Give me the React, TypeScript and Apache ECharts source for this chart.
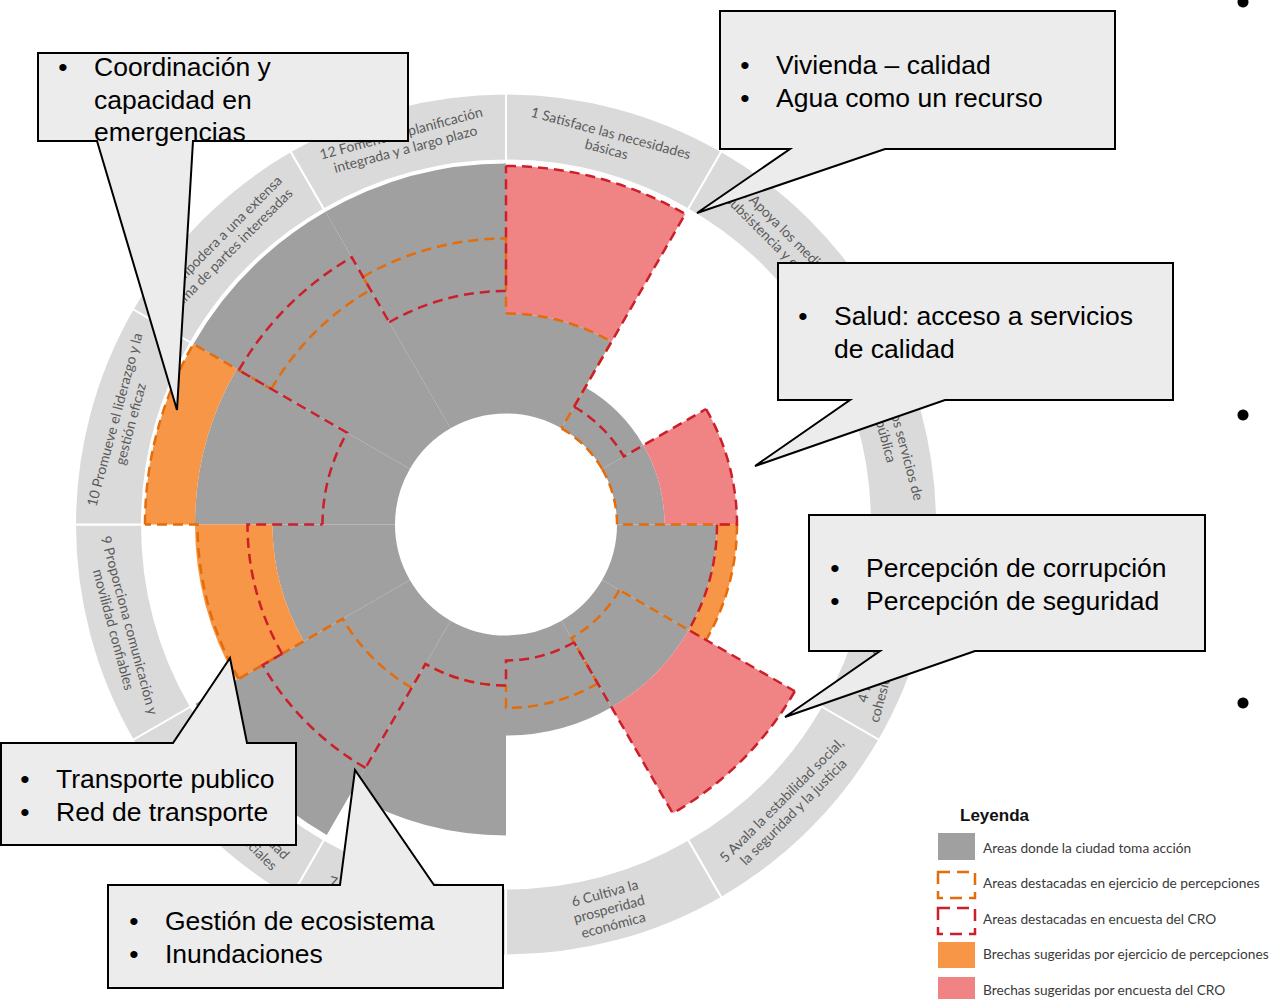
import React, { useEffect, useRef } from "react";
import * as echarts from "echarts";

// ---------- DATA ----------
const sectorNames = ["1", "2", "3", "4", "5", "6", "7", "8", "9", "10", "11", "12"];
const ringLabels = [
  "1 Satisface las necesidades\nbásicas",
  "2 Apoya los medios de\nsubsistencia y el empleo",
  "3 Garantiza los servicios de\nsalud pública",
  "4 Promueve comunidades\ncohesionadas y comprometidas",
  "5 Avala la estabilidad social,\nla seguridad y la justicia",
  "6 Cultiva la\nprosperidad\neconómica",
  "7 Provee y mejora activos\nnaturales y construidos",
  "8 Garantiza la continuidad\nde los servicios esenciales",
  "9 Proporciona comunicación y\nmovilidad confiables",
  "10 Promueve el liderazgo y la\ngestión eficaz",
  "11 Empodera a una extensa\ngama de partes interesadas",
  "12 Fomenta la planificación\nintegrada y a largo plazo",
];
// radial values 0..100 (0 = inner hole, 100 = outer edge of data area)
const cityAction = [40, 19, 19, 40, 40, 40, 80, 99, 49, 80, 100, 100];
const perceptionGap = [0, 0, 0, 8, 0, 0, 0, 0, 31, 20, 0, 0];
const croGap = [59, 0, 29, 0, 49, 0, 0, 0, 0, 0, 0, 0];
const perceptionHighlight = [40, 0, 0, 48, 8, 29, 20, 31, 79, 100, 64, 70];
const croHighlight = [99, 10, 48, 40, 89, 10, 20, 68, 59, 29, 79, 49];

const legendTitle = "Leyenda";
const legendItems = [
  "Areas donde la ciudad toma acción",
  "Areas destacadas en ejercicio de percepciones",
  "Areas destacadas en encuesta del CRO",
  "Brechas sugeridas por ejercicio de percepciones",
  "Brechas sugeridas por encuesta del CRO",
];
const calloutItems = [
  [["Coordinación y", "capacidad en", "emergencias"]],
  [["Vivienda – calidad"], ["Agua como un recurso"]],
  [["Salud: acceso a servicios", "de calidad"]],
  [["Percepción de corrupción"], ["Percepción de seguridad"]],
  [["Transporte publico"], ["Red de transporte"]],
  [["Gestión de ecosistema"], ["Inundaciones"]],
];

// ---------- STYLE / LAYOUT ----------
const C_GRAY = "#a0a0a0";
const C_ORANGE = "#f79646";
const C_PINK = "#f08383";
const C_ORANGE_LINE = "#e46c0a";
const C_RED_LINE = "#cc1f2a";
const C_RING = "#dadada";
const C_RING_TEXT = "#5a5a5a";
const CENTER = [506, 524.5];
const CALLOUT_FONT = '26.5px "Liberation Sans", Arial, sans-serif';

const calloutLayout = [
  { textX: 94, y0: 67, pts: [[38, 53], [408, 53], [408, 141], [193, 141], [177, 410], [97, 141], [38, 141]] },
  { textX: 776, y0: 65, pts: [[720, 11], [1115, 11], [1115, 149], [885, 149], [697, 213], [790, 149], [720, 149]] },
  { textX: 834, y0: 316, pts: [[778, 263], [1173, 263], [1173, 400], [945, 400], [755, 466], [850, 400], [778, 400]] },
  { textX: 866, y0: 568, pts: [[809, 515], [1205, 515], [1205, 651], [975, 651], [785, 717], [880, 651], [809, 651]] },
  { textX: 56, y0: 779, pts: [[1, 743], [173, 743], [230, 658], [247, 743], [296, 743], [296, 845], [1, 845]] },
  { textX: 165, y0: 921, pts: [[108, 885], [340, 885], [355, 770], [434, 885], [503, 885], [503, 988], [108, 988]] },
];

function outlineRenderer(values: number[], color: string) {
  return (params: any, api: any) => {
    const n = values.length;
    const i = params.dataIndex;
    const cs = params.coordSys;
    const cx = cs.cx, cy = cs.cy;
    const p = api.coord([values[i], i]);
    const r = Math.hypot(p[0] - cx, p[1] - cy);
    const mid = Math.atan2(p[1] - cy, p[0] - cx);
    const j = (i + 1) % n;
    const q = api.coord([values[j], j]);
    const rNext = Math.hypot(q[0] - cx, q[1] - cy);
    const half = Math.PI / n;
    const pts: number[][] = [];
    const steps = 24;
    for (let k = 0; k <= steps; k++) {
      const a = mid - half + (2 * half * k) / steps;
      pts.push([cx + r * Math.cos(a), cy + r * Math.sin(a)]);
    }
    const aEnd = mid + half;
    pts.push([cx + rNext * Math.cos(aEnd), cy + rNext * Math.sin(aEnd)]);
    return {
      type: "polyline",
      shape: { points: pts },
      style: { stroke: color, lineWidth: 2.5, lineDash: [10, 6], fill: "none" },
    };
  };
}

function ringLabelRenderer(params: any, api: any) {
  const i = params.dataIndex;
  const cs = params.coordSys;
  const p = api.coord([0.5, i]);
  const a = Math.atan2(p[1] - cs.cy, p[0] - cs.cx);
  let phi = (a * 180) / Math.PI + 90;
  phi = ((phi % 360) + 360) % 360;
  let cw: number;
  if (phi <= 90) cw = phi;
  else if (phi >= 270) cw = phi - 360;
  else cw = phi - 180;
  return {
    type: "text",
    x: p[0],
    y: p[1],
    rotation: (-cw * Math.PI) / 180,
    style: {
      text: ringLabels[i],
      align: "center",
      verticalAlign: "middle",
      textAlign: "center",
      textVerticalAlign: "middle",
      fill: C_RING_TEXT,
      font: '14px Lato, "Open Sans", sans-serif',
      lineHeight: 16.5,
    },
  };
}

function buildGraphics() {
  const els: any[] = [];
  calloutLayout.forEach((lay, ci) => {
    els.push({
      type: "polygon",
      z: 100,
      shape: { points: lay.pts },
      style: { fill: "#ececec", stroke: "#000", lineWidth: 2 },
    });
    let y = lay.y0;
    calloutItems[ci].forEach((item) => {
      item.forEach((line, li) => {
        if (li === 0) {
          els.push({
            type: "text", z: 101, x: lay.textX - 31, y,
            style: { text: "•", fill: "#000", font: CALLOUT_FONT, align: "center", verticalAlign: "middle", textAlign: "center", textVerticalAlign: "middle" },
          });
        }
        els.push({
          type: "text", z: 101, x: lay.textX, y,
          style: { text: line, fill: "#000", font: CALLOUT_FONT, align: "left", verticalAlign: "middle", textAlign: "left", textVerticalAlign: "middle" },
        });
        y += 32.5;
      });
    });
  });
  // stray bullets on right edge
  [[1243, 2], [1243, 415], [1243, 703]].forEach(([x, y]) => {
    els.push({ type: "circle", z: 100, shape: { cx: x, cy: y, r: 5.5 }, style: { fill: "#000" } });
  });
  // legend
  els.push({
    type: "text", z: 100, x: 960, y: 815,
    style: { text: legendTitle, fill: "#111", font: 'bold 17px "Liberation Sans", Arial, sans-serif', align: "left", verticalAlign: "middle", textAlign: "left", textVerticalAlign: "middle" },
  });
  const boxes = [
    { y: 833, h: 27, fill: C_GRAY, stroke: null },
    { y: 872, h: 26, fill: "none", stroke: C_ORANGE_LINE },
    { y: 908, h: 26, fill: "none", stroke: C_RED_LINE },
    { y: 942, h: 26, fill: C_ORANGE, stroke: null },
    { y: 977, h: 26, fill: C_PINK, stroke: null },
  ];
  const textYs = [847, 882, 918, 953, 989];
  boxes.forEach((b, k) => {
    els.push({
      type: "rect", z: 100,
      shape: { x: 938, y: b.y, width: 37, height: b.h },
      style: b.stroke
        ? { fill: "none", stroke: b.stroke, lineWidth: 2.5, lineDash: [12, 7] }
        : { fill: b.fill },
    });
    els.push({
      type: "text", z: 100, x: 983, y: textYs[k],
      style: { text: legendItems[k], fill: "#3a3a3a", font: '13.7px Lato, "Open Sans", sans-serif', align: "left", verticalAlign: "middle", textAlign: "left", textVerticalAlign: "middle" },
    });
  });
  return els;
}

export default function App() {
  const ref = useRef<HTMLDivElement>(null);
  useEffect(() => {
    if (!ref.current) return;
    const chart = echarts.init(ref.current, null, { renderer: "svg" });
    const hiddenAngle = {
      type: "category",
      data: sectorNames,
      startAngle: 90,
      clockwise: true,
      axisLine: { show: false },
      axisTick: { show: false },
      axisLabel: { show: false },
      splitLine: { show: false },
    };
    const hiddenRadius = {
      axisLine: { show: false },
      axisTick: { show: false },
      axisLabel: { show: false },
      splitLine: { show: false },
    };
    chart.setOption({
      animation: false,
      backgroundColor: "#ffffff",
      polar: [
        { center: CENTER, radius: [111, 361] },
        { center: CENTER, radius: [364, 431] },
      ],
      angleAxis: [
        { ...hiddenAngle, polarIndex: 0 },
        { ...hiddenAngle, polarIndex: 1 },
      ],
      radiusAxis: [
        { ...hiddenRadius, type: "value", min: 0, max: 100, polarIndex: 0 },
        { ...hiddenRadius, type: "value", min: 0, max: 1, polarIndex: 1 },
      ],
      series: [
        {
          name: "Areas donde la ciudad toma acción",
          type: "bar", coordinateSystem: "polar", polarIndex: 0, stack: "main",
          data: cityAction, barCategoryGap: "0%", barGap: "-100%",
          itemStyle: { color: C_GRAY }, z: 2,
        },
        {
          name: "Brechas sugeridas por ejercicio de percepciones",
          type: "bar", coordinateSystem: "polar", polarIndex: 0, stack: "main",
          data: perceptionGap, barCategoryGap: "0%", barGap: "-100%",
          itemStyle: { color: C_ORANGE }, z: 2,
        },
        {
          name: "Brechas sugeridas por encuesta del CRO",
          type: "bar", coordinateSystem: "polar", polarIndex: 0, stack: "main",
          data: croGap, barCategoryGap: "0%", barGap: "-100%",
          itemStyle: { color: C_PINK }, z: 2,
        },
        {
          name: "Areas destacadas en ejercicio de percepciones",
          type: "custom", coordinateSystem: "polar", polarIndex: 0,
          data: perceptionHighlight.map((v, i) => [v, i]),
          renderItem: outlineRenderer(perceptionHighlight, C_ORANGE_LINE),
          z: 3, silent: true,
        },
        {
          name: "Areas destacadas en encuesta del CRO",
          type: "custom", coordinateSystem: "polar", polarIndex: 0,
          data: croHighlight.map((v, i) => [v, i]),
          renderItem: outlineRenderer(croHighlight, C_RED_LINE),
          z: 4, silent: true,
        },
        {
          name: "ring",
          type: "bar", coordinateSystem: "polar", polarIndex: 1,
          data: sectorNames.map(() => 1), barCategoryGap: "0%",
          itemStyle: { color: C_RING, borderColor: "#ffffff", borderWidth: 2 },
          z: 2, silent: true,
        },
        {
          name: "ringLabels",
          type: "custom", coordinateSystem: "polar", polarIndex: 1,
          data: ringLabels.map((_, i) => [0.5, i]),
          renderItem: ringLabelRenderer,
          z: 5, silent: true,
        },
      ],
      graphic: { elements: buildGraphics() },
    });
    return () => chart.dispose();
  }, []);
  return (
    <div
      ref={ref}
      style={{ position: "absolute", left: 0, top: 0, width: 1272, height: 999, background: "#fff" }}
    />
  );
}
